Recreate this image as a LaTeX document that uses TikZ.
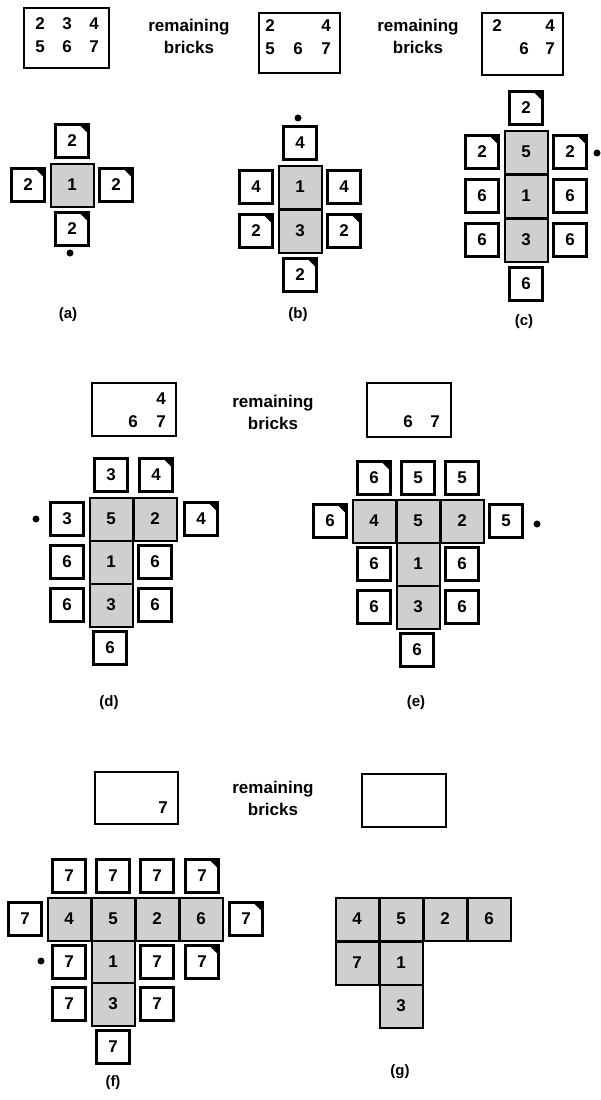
\documentclass[tikz,border=0pt]{standalone}
\usepackage{fontspec}
\setsansfont{Liberation Sans}
\usepackage{tikz}
\usetikzlibrary{positioning}
\tikzset{
  brick scheme/.style = {
    x=1pt, y=-1pt,
    % laid bricks
    gcell/.style   = {draw, line width=2pt, fill=black!19, minimum size=43pt,
                      inner sep=0pt, font=\sffamily\bfseries\fontsize{17}{20}\selectfont},
    % candidate bricks
    wbrick/.style  = {draw, line width=2.7pt, fill=white, minimum size=33pt,
                      inner sep=0pt, font=\sffamily\bfseries\fontsize{17}{20}\selectfont},
    % boxes of remaining bricks
    restbox/.style = {draw, line width=1.2pt, inner sep=0pt},
    digit/.style   = {inner sep=0pt, font=\sffamily\bfseries\fontsize{17}{20}\selectfont},
    words/.style   = {inner sep=0pt, align=center, font=\sffamily\bfseries\fontsize{17}{22}\selectfont},
    caption/.style = {inner sep=0pt, font=\sffamily\bfseries\fontsize{15}{18}\selectfont},
    spot/.style    = {circle, fill, inner sep=0pt, minimum size=7pt},
  }
}
\begin{document}
\begin{tikzpicture}[brick scheme]
\def\gcell(#1)[#2] at (#3);{\node[gcell] (#1) at (#3) {#2};}
\def\wbrick(#1)[#2] at (#3);{\node[wbrick] (#1) at (#3) {#2};}
\def\ebrick(#1)[#2] at (#3);{\wbrick(#1)[#2] at (#3);
  \fill (#1.north east) -- ++(-12pt,0pt) -- ++(12pt,-12pt) -- cycle;}
\def\rest(#1)#2<#3,#4> at (#5);{\node[restbox, minimum width=#3, minimum height=#4] (#1) at (#5) {};}

\useasboundingbox (0,0) rectangle (601,1100);

%--------------------------------------------- remaining bricks, top
\rest (r0) <85pt,60pt> at (66.5,38);
\foreach \x/\y/\t in {40/24/2, 67/24/3, 94/24/4, 40/47/5, 67/47/6, 94/47/7}
  \node[digit] (r0-\t) at (\x,\y) {\t};
\node[words] (w0) at (189,36) {remaining\\bricks};
\rest (r1) <81pt,60pt> at (299.5,43);
\foreach \x/\y/\t in {270/26/2, 326/26/4, 270/49/5, 298/49/6, 326/49/7}
  \node[digit] (r1-\t) at (\x,\y) {\t};
\node[words] (w1) at (418,36) {remaining\\bricks};
\rest (r2) <81pt,62pt> at (522.5,44);
\foreach \x/\y/\t in {497/26/2, 550/26/4, 524/49/6, 550/49/7}
  \node[digit] (r2-\t) at (\x,\y) {\t};

%--------------------------------------------- (a)
\gcell  (a1)[1] at (72,185);
\ebrick (at)[2] at (72,141);
\ebrick (al)[2] at (28,185);
\ebrick (ar)[2] at (116,185);
\ebrick (ab)[2] at (72,229);
\node[spot] (a-spot) at (70,253) {};
\node[caption] (a-cap) at (68,315) {(a)};

%--------------------------------------------- (b)
\gcell  (b1)[1] at (300,187);
\gcell  (b3)[3] at (300,231);
\wbrick (bt)[4]  at (300,143);
\wbrick (bl1)[4] at (256,187);
\wbrick (br1)[4] at (344,187);
\ebrick (bl3)[2] at (256,231);
\ebrick (br3)[2] at (344,231);
\ebrick (bb)[2]  at (300,275);
\node[spot] (b-spot) at (298,118) {};
\node[caption] (b-cap) at (298,315) {(b)};

%--------------------------------------------- (c)
\gcell  (c5)[5] at (526,152);
\gcell  (c1)[1] at (526,196);
\gcell  (c3)[3] at (526,240);
\ebrick (ct)[2]  at (526,108);
\ebrick (cl5)[2] at (482,152);
\ebrick (cr5)[2] at (570,152);
\wbrick (cl1)[6] at (482,196);
\wbrick (cr1)[6] at (570,196);
\wbrick (cl3)[6] at (482,240);
\wbrick (cr3)[6] at (570,240);
\wbrick (cb)[6]  at (526,284);
\node[spot] (c-spot) at (597,153) {};
\node[caption] (c-cap) at (524,322) {(c)};

%--------------------------------------------- remaining bricks, middle
\rest (r3) <84pt,53pt> at (134,409.5);
\foreach \x/\y/\t in {161/399/4, 133/422/6, 161/422/7}
  \node[digit] (r3-\t) at (\x,\y) {\t};
\node[words] (w2) at (273,412) {remaining\\bricks};
\rest (r4) <84pt,54pt> at (409,410);
\foreach \x/\y/\t in {408/422/6, 435/422/7}
  \node[digit] (r4-\t) at (\x,\y) {\t};

%--------------------------------------------- (d)
\gcell  (d5)[5] at (111,519);
\gcell  (d2)[2] at (155,519);
\gcell  (d1)[1] at (111,562);
\gcell  (d3)[3] at (111,605);
\wbrick (dt5)[3] at (111,475);
\ebrick (dt2)[4] at (156,475);
\wbrick (dl5)[3] at (67,519);
\ebrick (dr2)[4] at (201,519);
\wbrick (dl1)[6] at (67,562);
\wbrick (dr1)[6] at (155,562);
\wbrick (dl3)[6] at (67,605);
\wbrick (dr3)[6] at (155,605);
\wbrick (db)[6]  at (110,648);
\node[spot] (d-spot) at (36,519) {};
\node[caption] (d-cap) at (109,703) {(d)};

%--------------------------------------------- (e)
\gcell  (e4)[4] at (374,521);
\gcell  (e5)[5] at (418,521);
\gcell  (e2)[2] at (462,521);
\gcell  (e1)[1] at (418,564);
\gcell  (e3)[3] at (418,607);
\ebrick (et4)[6] at (374,478);
\wbrick (et5)[5] at (418,478);
\wbrick (et2)[5] at (462,478);
\ebrick (el4)[6] at (330,521);
\wbrick (er2)[5] at (506,521);
\wbrick (el1)[6] at (374,564);
\wbrick (er1)[6] at (462,564);
\wbrick (el3)[6] at (374,607);
\wbrick (er3)[6] at (462,607);
\wbrick (eb)[6]  at (417,650);
\node[spot] (e-spot) at (537,524) {};
\node[caption] (e-cap) at (416,703) {(e)};

%--------------------------------------------- remaining bricks, bottom
\rest (r5) <83pt,52pt> at (136.5,798);
\node[digit] (r5-7) at (163,808) {7};
\node[words] (w3) at (273,798) {remaining\\bricks};
\rest (r6) <84pt,53pt> at (404,800.5);

%--------------------------------------------- (f)
\gcell  (f4)[4] at (69,919);
\gcell  (f5)[5] at (113,919);
\gcell  (f2)[2] at (157,919);
\gcell  (f6)[6] at (201,919);
\gcell  (f1)[1] at (113,962);
\gcell  (f3)[3] at (113,1004);
\wbrick (ft4)[7] at (69,876);
\wbrick (ft5)[7] at (113,876);
\wbrick (ft2)[7] at (157,876);
\ebrick (ft6)[7] at (202,876);
\wbrick (fl4)[7] at (25,919);
\ebrick (fr6)[7] at (246,919);
\wbrick (fl1)[7] at (69,962);
\wbrick (fr1)[7] at (157,962);
\ebrick (fb6)[7] at (202,962);
\wbrick (fl3)[7] at (69,1004);
\wbrick (fr3)[7] at (157,1004);
\wbrick (fb)[7]  at (113,1047);
\node[spot] (f-spot) at (41,961) {};
\node[caption] (f-cap) at (113,1083) {(f)};

%--------------------------------------------- (g)
\gcell (g4)[4] at (357,919);
\gcell (g5)[5] at (401,919);
\gcell (g2)[2] at (445,919);
\gcell (g6)[6] at (489,919);
\gcell (g7)[7] at (357,963);
\gcell (g1)[1] at (401,963);
\gcell (g3)[3] at (401,1006);
\node[caption] (g-cap) at (400,1072) {(g)};

\end{tikzpicture}
\end{document}
